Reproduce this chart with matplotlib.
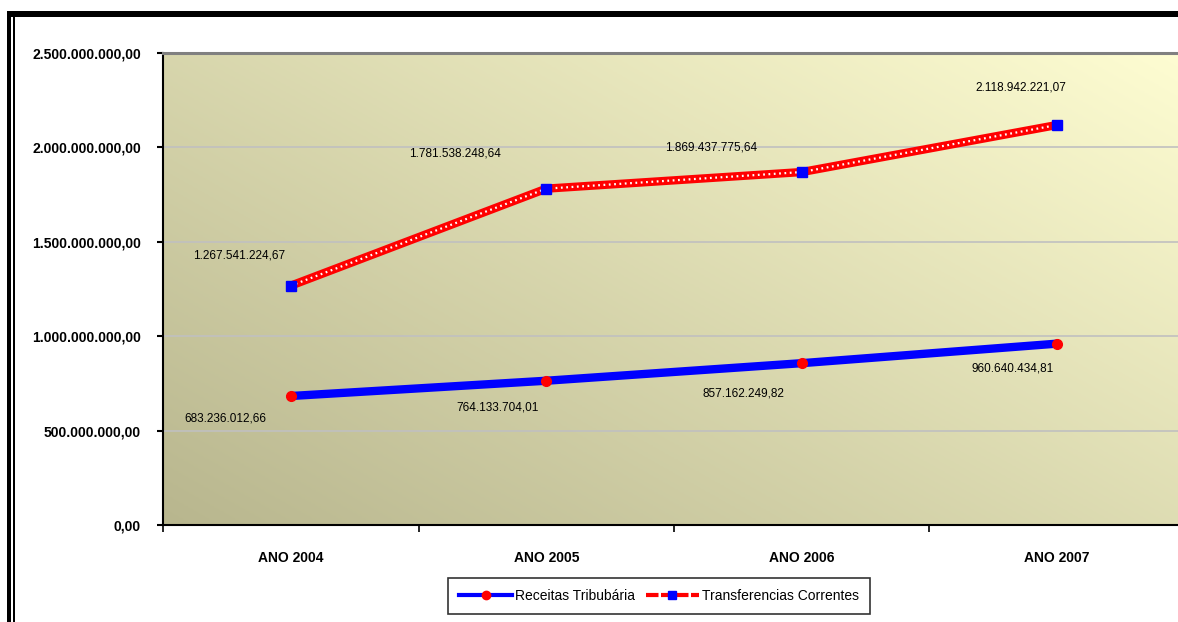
import numpy as np
import matplotlib.pyplot as plt
from matplotlib.ticker import FuncFormatter, FixedLocator
from matplotlib.lines import Line2D
from matplotlib.patches import Rectangle

plt.rcParams['font.family'] = ['Liberation Sans', 'DejaVu Sans']

# data
categorias = ['ANO 2004', 'ANO 2005', 'ANO 2006', 'ANO 2007']
receitas = [683236012.66, 764133704.01, 857162249.82, 960640434.81]
transferencias = [1267541224.67, 1781538248.64, 1869437775.64, 2118942221.07]

# label offsets in points (layout only)
off_rec = [(-47, -16), (-35, -19), (-42, -22), (-32, -18)]
off_tr = [(-37, 22), (-66, 25), (-65, 18), (-26, 27)]


def br_fmt(v, pos=None):
    s = f"{v:,.2f}"
    return s.replace(',', 'X').replace('.', ',').replace('X', '.')


fig = plt.figure(figsize=(11.78, 6.22), dpi=100)
ax = fig.add_axes([163 / 1178, 1 - 525 / 622, (1185 - 163) / 1178, (525 - 53) / 622])

# diagonal gradient background
n = 200
xx, yy = np.meshgrid(np.linspace(0, 1, n), np.linspace(0, 1, n))
t = (xx * 0.55 + yy * 0.45)
c0 = np.array([0xb8, 0xb6, 0x8e]) / 255
c1 = np.array([0xfe, 0xfd, 0xd2]) / 255
grad = c0 + (c1 - c0) * t[..., None]
ax.imshow(grad, extent=[0, 1, 0, 1], transform=ax.transAxes, aspect='auto',
          origin='lower', zorder=0)

x = np.arange(len(categorias))

# gridlines
for g in [500e6, 1000e6, 1500e6, 2000e6]:
    ax.axhline(g, color='#c0c0c0', lw=1.2, zorder=1)

# Receitas: thick blue line with red circles
ax.plot(x, receitas, color='#0000ff', lw=6, solid_capstyle='butt', zorder=3)
ax.plot(x, receitas, ls='none', marker='o', ms=7, color='#ff0000', zorder=4)

# Transferencias: red line with white dots
ax.plot(x, transferencias, color='#ff0000', lw=6, solid_capstyle='butt', zorder=3)
ax.plot(x, transferencias, color='white', lw=1.6, dashes=(0.8, 1.6), zorder=3.5)
ax.plot(x, transferencias, ls='none', marker='s', ms=7.5, color='#0000ff', zorder=4)

for xi, v, o in zip(x, receitas, off_rec):
    ax.annotate(br_fmt(v), (xi, v), xytext=o, textcoords='offset points',
                ha='center', va='center', fontsize=8.5, color='black', zorder=5)
for xi, v, o in zip(x, transferencias, off_tr):
    ax.annotate(br_fmt(v), (xi, v), xytext=o, textcoords='offset points',
                ha='center', va='center', fontsize=8.5, color='black', zorder=5)

ax.set_xlim(-0.5, 3.5)
ax.set_ylim(0, 2.5e9)

ax.set_yticks([0, 500e6, 1000e6, 1500e6, 2000e6, 2500e6])
ax.yaxis.set_major_formatter(FuncFormatter(br_fmt))
ax.tick_params(axis='y', direction='out', length=4, width=1.5, pad=12,
               labelsize=10)
for lab in ax.get_yticklabels():
    lab.set_fontweight('bold')

ax.xaxis.set_major_locator(FixedLocator([-0.5, 0.5, 1.5, 2.5, 3.5]))
ax.xaxis.set_major_formatter(FuncFormatter(lambda v, p: ''))
ax.xaxis.set_minor_locator(FixedLocator(list(x)))
ax.set_xticks(x, categorias, minor=True)
ax.tick_params(axis='x', which='major', direction='out', length=5, width=1.2)
ax.tick_params(axis='x', which='minor', length=0, pad=19, labelsize=10)
for lab in ax.get_xticklabels(minor=True):
    lab.set_fontweight('bold')

ax.spines['left'].set_color('black')
ax.spines['left'].set_linewidth(1.5)
ax.spines['bottom'].set_color('black')
ax.spines['bottom'].set_linewidth(1.5)
ax.spines['top'].set_color('#808080')
ax.spines['top'].set_linewidth(2.2)
ax.spines['right'].set_visible(False)

# legend
handles = [
    Line2D([0], [0], color='#0000ff', lw=3, marker='o', ms=6,
           markerfacecolor='#ff0000', markeredgecolor='#ff0000'),
    Line2D([0], [0], color='#ff0000', lw=3, ls=(0, (3, 0.6)), marker='s', ms=6,
           markerfacecolor='#0000ff', markeredgecolor='#0000ff'),
]
leg = fig.legend(handles, ['Receitas Tribubária', 'Transferencias Correntes'],
                 loc='center', bbox_to_anchor=(659 / 1178, 1 - 596 / 622),
                 ncol=2, fontsize=10, frameon=True, fancybox=False,
                 edgecolor='black', handlelength=3.8, handletextpad=0.2,
                 columnspacing=0.8, borderpad=0.8)
leg.get_frame().set_linewidth(1.2)

# outer frame of the chart object
fig.add_artist(Rectangle((7 / 1178, 0), 4 / 1178, 1 - 11 / 622,
                         transform=fig.transFigure, color='black', lw=0))
fig.add_artist(Rectangle((13 / 1178, 0), 1.5 / 1178, 1 - 11 / 622,
                         transform=fig.transFigure, color='black', lw=0))
fig.add_artist(Rectangle((7 / 1178, 1 - 17 / 622), 1, 6 / 622,
                         transform=fig.transFigure, color='black', lw=0))

fig.savefig('out.png', dpi=100)
